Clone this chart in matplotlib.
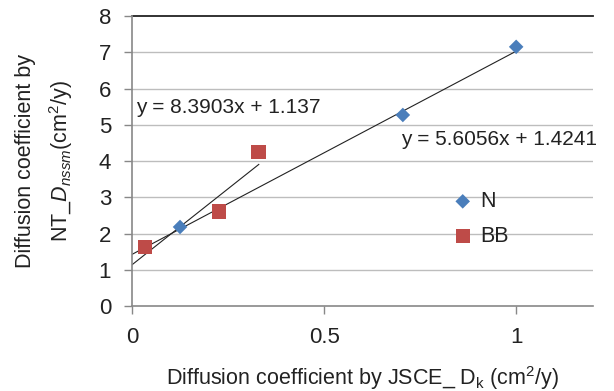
import matplotlib
matplotlib.use("Agg")
import matplotlib.pyplot as plt

plt.rcParams["font.family"] = ["Liberation Sans", "DejaVu Sans"]
plt.rcParams["mathtext.fontset"] = "custom"
plt.rcParams["mathtext.rm"] = "Liberation Sans"
plt.rcParams["mathtext.it"] = "Liberation Sans:italic"

# data
n_x = [0.125, 0.705, 1.0]
n_y = [2.18, 5.27, 7.15]
bb_x = [0.034, 0.227, 0.329]
bb_y = [1.62, 2.61, 4.24]

n_slope, n_icpt = 5.6056, 1.4241
bb_slope, bb_icpt = 8.3903, 1.137
n_fit_x = [0.0, 1.0]
bb_fit_x = [0.0, 0.33]

x_ticks = [0, 0.5, 1]
x_tick_labels = ["0", "0.5", "1"]
y_ticks = list(range(0, 9))

BLUE = "#4a7ebb"
RED = "#be4b48"
TXT = "#222222"

fig = plt.figure(figsize=(6.14, 3.91), dpi=100)
ax = fig.add_axes([0.215, 0.2174, 0.7508, 0.7416])

ax.set_xlim(0, 1.2)
ax.set_ylim(0, 8)

for yv in y_ticks[1:-1]:
    ax.axhline(yv, color="#bdbdbd", lw=1.0, zorder=0)
ax.axhline(8, color="#222222", lw=1.3, zorder=0, clip_on=False)

ax.plot(n_fit_x, [n_slope * x + n_icpt for x in n_fit_x], color="#222222", lw=0.8, zorder=2)
ax.plot(bb_fit_x, [bb_slope * x + bb_icpt for x in bb_fit_x], color="#222222", lw=0.8, zorder=2)

ax.scatter(n_x, n_y, marker="D", s=55, color=BLUE, edgecolors="none", zorder=3, label="N")
ax.scatter(bb_x, bb_y, marker="s", s=105, color=RED, edgecolors="none", zorder=3, label="BB")

ax.text(0.01, 5.49, f"y = {bb_slope}x + {bb_icpt}", fontsize=15, va="center", ha="left", color=TXT)
ax.text(0.70, 4.58, f"y = {n_slope}x + {n_icpt}", fontsize=15, va="center", ha="left", color=TXT)

ax.legend(loc="center left", bbox_to_anchor=(0.638, 0.30), frameon=False,
          fontsize=15.5, handletextpad=0.0, labelspacing=0.65, handlelength=1.6,
          labelcolor=TXT)

for side in ("top", "right"):
    ax.spines[side].set_visible(False)
for side in ("left", "bottom"):
    ax.spines[side].set_color("#888888")
    ax.spines[side].set_linewidth(1.2)

ax.set_xticks(x_ticks)
ax.set_xticklabels(x_tick_labels)
ax.set_yticks(y_ticks)
ax.tick_params(axis="both", colors="#888888", labelcolor=TXT, labelsize=16,
               length=6, width=1.0)
ax.tick_params(axis="x", pad=9)
ax.tick_params(axis="y", pad=9)

ax.set_xlabel(r"Diffusion coefficient by JSCE_ D$_\mathrm{k}$ (cm$^2$/y)", fontsize=15.5,
              color=TXT, labelpad=12)

fig.text(26 / 614, 0.588, "Diffusion coefficient by", rotation=90, fontsize=15.5,
         color=TXT, ha="center", va="center")
fig.text(61 / 614, 0.588, r"NT_$\it{D}_{nssm}$(cm$^2$/y)", rotation=90, fontsize=15.5,
         color=TXT, ha="center", va="center")

fig.savefig("out.png", dpi=100)
